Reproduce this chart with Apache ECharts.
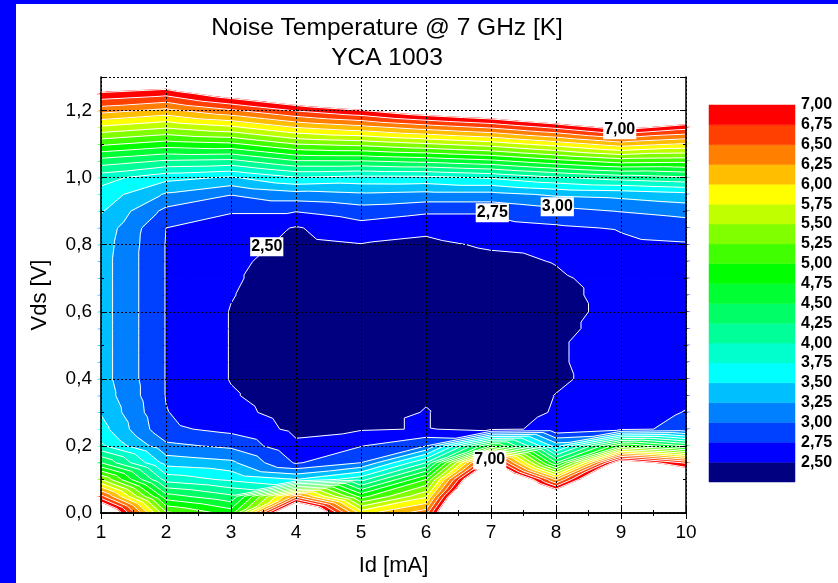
<!DOCTYPE html>
<html>
<head>
<meta charset="utf-8">
<script src="https://cdn.jsdelivr.net/npm/echarts@6/dist/echarts.min.js"></script>
<style>
  html, body { margin: 0; padding: 0; background: #0000ff; }
  #chart { position: absolute; left: 16px; top: 4px; width: 822px; height: 579px; background: #fff; }
</style>
</head>
<body>
<div id="chart"></div>
<script>
// measurement grid: Id [mA] columns, Vds [V] rows
const idMA = [1, 2, 3, 4, 5, 6, 7, 8, 9, 10];
const vds = [0, 0.05, 0.1, 0.15, 0.2, 0.25, 0.3, 0.35, 0.4, 0.45, 0.5, 0.55, 0.6, 0.65,
  0.7, 0.75, 0.8, 0.85, 0.9, 0.95, 1.0, 1.05, 1.1, 1.15, 1.2, 1.25, 1.3];

// noise temperature [K] along Vds, one array per Id
const tId1 = [7.8, 6.6, 5.5, 4.5, 3.8, 3.6, 3.48, 3.40, 3.36, 3.36, 3.36, 3.36, 3.36, 3.36,
  3.36, 3.36, 3.38, 3.42, 3.52, 3.65, 3.85, 4.4, 5.05, 5.7, 6.35, 6.95, 7.6];
const tId2 = [5.3, 4.6, 3.9, 3.4, 3.06, 2.8, 2.76, 2.74, 2.74, 2.74, 2.74, 2.74, 2.74, 2.74,
  2.74, 2.74, 2.74, 2.75, 2.93, 3.22, 3.58, 4.23, 4.88, 5.53, 6.18, 6.83, 7.48];
const tId3 = [4.9, 4.3, 3.7, 3.3, 2.95, 2.68, 2.57, 2.52, 2.49, 2.49, 2.49, 2.49, 2.49, 2.51,
  2.53, 2.56, 2.62, 2.69, 2.76, 3.01, 3.47, 4.19, 4.95, 5.70, 6.46, 7.21, 7.97];
const tId4 = [8.2, 6.4, 3.5, 2.72, 2.55, 2.44, 2.40, 2.38, 2.38, 2.38, 2.38, 2.38, 2.38, 2.38,
  2.38, 2.38, 2.43, 2.48, 2.76, 3.15, 3.73, 4.49, 5.25, 6.01, 6.77, 7.53, 8.29];
const tId5 = [5.9, 4.9, 3.9, 3.0, 2.74, 2.48, 2.40, 2.36, 2.36, 2.36, 2.36, 2.36, 2.36, 2.36,
  2.36, 2.40, 2.49, 2.65, 2.88, 3.21, 3.67, 4.5, 5.33, 6.17, 6.99, 7.83, 8.67];
const tId6 = [6.4, 5.7, 5.0, 4.0, 3.0, 2.51, 2.51, 2.48, 2.38, 2.38, 2.38, 2.38, 2.38, 2.38,
  2.38, 2.38, 2.45, 2.55, 2.79, 3.17, 3.68, 4.58, 5.47, 6.37, 7.27, 8.16, 9.0];
const tId7 = [10, 9.5, 8.5, 7.2, 4.8, 2.45, 2.36, 2.38, 2.38, 2.38, 2.38, 2.38, 2.38, 2.38,
  2.38, 2.44, 2.53, 2.65, 2.79, 3.17, 3.78, 4.70, 5.62, 6.54, 7.46, 8.38, 9.3];
const tId8 = [9.0, 7.6, 6.2, 4.5, 3.4, 2.55, 2.52, 2.505, 2.47, 2.48, 2.48, 2.45, 2.42, 2.44,
  2.47, 2.51, 2.56, 2.71, 2.92, 3.29, 3.97, 4.92, 5.86, 6.81, 7.76, 8.7, 9.6];
const tId9 = [9.5, 9.0, 8.5, 7.4, 5.0, 2.7, 2.62, 2.58, 2.58, 2.58, 2.58, 2.58, 2.58, 2.58,
  2.58, 2.64, 2.70, 2.77, 3.01, 3.33, 4.11, 5.12, 6.13, 7.14, 8.15, 9.16, 10.2];
const tId10 = [9.0, 8.5, 7.8, 6.7, 4.5, 2.8, 2.76, 2.7, 2.65, 2.65, 2.65, 2.65, 2.65, 2.65,
  2.65, 2.69, 2.73, 2.86, 3.09, 3.42, 4.21, 5.09, 5.97, 6.86, 7.74, 8.63, 9.5];
const noiseT = [tId1, tId2, tId3, tId4, tId5, tId6, tId7, tId8, tId9, tId10];

// contour levels and band colours (band k lies below levels[k])
const levels = [2.5, 2.75, 3.0, 3.25, 3.5, 3.75, 4.0, 4.25, 4.5, 4.75, 5.0, 5.25, 5.5,
  5.75, 6.0, 6.25, 6.5, 6.75, 7.0];
const bandColors = ['#000080', '#0000ff', '#0040ff', '#0080ff', '#00bfff', '#00ffff',
  '#00ffcc', '#00ff99', '#00ff66', '#00ff33', '#00ff00', '#40ff00', '#80ff00', '#bfff00',
  '#ffff00', '#ffbf00', '#ff8000', '#ff4000', '#ff0000'];

// contour labels: Id, Vds, text
const contourLabels = [
  [3.55, 0.794, '2,50'],
  [7.02, 0.895, '2,75'],
  [8.02, 0.913, '3,00'],
  [8.98, 1.143, '7,00'],
  [6.98, 0.158, '7,00']
];

const comma = (v, d) => v.toFixed(d).replace('.', ',');

const cells = [];
for (let i = 0; i < idMA.length - 1; i++) {
  for (let j = 0; j < vds.length - 1; j++) cells.push([i, j]);
}

function cellTriangles(i, j) {
  const p = (a, b) => [idMA[a], vds[b], noiseT[a][b]];
  const c = [p(i, j), p(i + 1, j), p(i + 1, j + 1), p(i, j + 1)];
  return [[c[0], c[1], c[2]], [c[0], c[2], c[3]]];
}

// keep the part of poly with v >= level (above) or v < level
function clip(poly, level, above) {
  const out = [];
  const inside = pt => (above ? pt[2] >= level : pt[2] < level);
  for (let k = 0; k < poly.length; k++) {
    const a = poly[k], b = poly[(k + 1) % poly.length];
    const ia = inside(a), ib = inside(b);
    if (ia) out.push(a);
    if (ia !== ib) {
      const t = (level - a[2]) / (b[2] - a[2]);
      out.push([a[0] + t * (b[0] - a[0]), a[1] + t * (b[1] - a[1]), level]);
    }
  }
  return out;
}

function renderBands(params, api) {
  const children = [];
  cellTriangles(api.value(0), api.value(1)).forEach(tri => {
    for (let k = 0; k < bandColors.length; k++) {
      let poly = k > 0 ? clip(tri, levels[k - 1], true) : tri;
      if (poly.length >= 3) poly = clip(poly, levels[k], false);
      if (poly.length < 3) continue;
      children.push({
        type: 'polygon',
        shape: { points: poly.map(pt => api.coord([pt[0], pt[1]])) },
        style: { fill: bandColors[k], stroke: bandColors[k], lineWidth: 1.2 }
      });
    }
  });
  return { type: 'group', children };
}

function renderLines(params, api) {
  const children = [];
  cellTriangles(api.value(0), api.value(1)).forEach(tri => {
    levels.forEach(L => {
      const pts = [];
      for (let e = 0; e < 3; e++) {
        const a = tri[e], b = tri[(e + 1) % 3];
        if ((a[2] < L) !== (b[2] < L)) {
          const t = (L - a[2]) / (b[2] - a[2]);
          pts.push(api.coord([a[0] + t * (b[0] - a[0]), a[1] + t * (b[1] - a[1])]));
        }
      }
      if (pts.length === 2) {
        children.push({
          type: 'line',
          shape: { x1: pts[0][0], y1: pts[0][1], x2: pts[1][0], y2: pts[1][1] },
          style: { stroke: '#ffffff', lineWidth: 1 }
        });
      }
    });
  });
  return { type: 'group', children };
}

function renderLabel(params, api) {
  const p = api.coord([api.value(0), api.value(1)]);
  return {
    type: 'text',
    x: p[0], y: p[1],
    style: {
      text: contourLabels[params.dataIndex][2],
      font: 'bold 16px ' + font, fill: '#000',
      align: 'center', verticalAlign: 'middle',
      backgroundColor: '#fff', padding: [2, 1, 1, 1]
    }
  };
}

function renderLegend(params, api) {
  const k = api.value(0);
  const lo = k === 0 ? 2.25 : levels[k - 1];
  const p0 = api.coord([0, levels[k]]);
  const p1 = api.coord([1, lo]);
  return {
    type: 'rect',
    shape: { x: p0[0], y: p0[1], width: p1[0] - p0[0], height: p1[1] - p0[1] },
    style: { fill: bandColors[k], stroke: bandColors[k], lineWidth: 0.5 }
  };
}

const font = 'Liberation Sans, Arial, sans-serif';
const frameTick = { show: true, inside: true, length: 6, lineStyle: { color: '#000', width: 1 } };
const frameMinor = { show: true, splitNumber: 2, length: 3, lineStyle: { color: '#000', width: 1 } };
const frameLine = { show: true, lineStyle: { color: '#000', width: 1.5 } };
const gridDots = { show: true, lineStyle: { color: '#000', width: 1, type: [2, 2] } };

const chart = echarts.init(document.getElementById('chart'));
chart.setOption({
  animation: false,
  backgroundColor: '#ffffff',
  graphic: [{
    type: 'text',
    x: 371, y: 39,
    style: {
      text: 'Noise Temperature @ 7 GHz [K]\nYCA 1003',
      font: '24.5px ' + font, fill: '#000', align: 'center', verticalAlign: 'middle', lineHeight: 30
    }
  }],
  grid: [
    { left: 85, top: 73, width: 585, height: 436 },
    { left: 693, top: 101, width: 86, height: 377 }
  ],
  xAxis: [{
    type: 'value', gridIndex: 0, min: 1, max: 10, interval: 1, z: 10,
    axisLine: frameLine, axisTick: frameTick, minorTick: frameMinor, splitLine: gridDots,
    axisLabel: { color: '#000', fontSize: 19, fontFamily: font, margin: 10 },
    name: 'Id [mA]', nameLocation: 'middle', nameGap: 42,
    nameTextStyle: { color: '#000', fontSize: 22, fontFamily: font }
  }, {
    type: 'value', gridIndex: 0, position: 'top', min: 1, max: 10, interval: 1, z: 10,
    axisLine: frameLine, axisTick: frameTick, minorTick: frameMinor,
    axisLabel: { show: false }, splitLine: { show: false }
  }, {
    type: 'value', gridIndex: 1, min: 0, max: 1, show: false
  }],
  yAxis: [{
    type: 'value', gridIndex: 0, min: 0, max: 1.3, interval: 0.2, z: 10,
    axisLine: frameLine, axisTick: frameTick, minorTick: frameMinor, splitLine: gridDots,
    axisLabel: {
      color: '#000', fontSize: 19, fontFamily: font, margin: 9,
      formatter: v => (v > 1.25 ? '' : comma(v, 1))
    },
    name: 'Vds [V]', nameLocation: 'middle', nameGap: 50,
    nameTextStyle: { color: '#000', fontSize: 22, fontFamily: font }
  }, {
    type: 'value', gridIndex: 0, position: 'right', min: 0, max: 1.3, interval: 0.2, z: 10,
    axisLine: frameLine, axisTick: frameTick, minorTick: frameMinor,
    axisLabel: { show: false }, splitLine: { show: false }
  }, {
    type: 'value', gridIndex: 1, position: 'right', min: 2.25, max: 7.0, interval: 0.25,
    axisLine: { show: false }, axisTick: { show: false }, splitLine: { show: false },
    axisLabel: {
      color: '#000', fontSize: 16, fontWeight: 'bold', fontFamily: font, margin: 6,
      formatter: v => (v < 2.4 ? '' : comma(v, 2))
    }
  }],
  series: [{
    type: 'custom', xAxisIndex: 0, yAxisIndex: 0, z: 2,
    renderItem: renderBands, data: cells, silent: true
  }, {
    type: 'custom', xAxisIndex: 0, yAxisIndex: 0, z: 3,
    renderItem: renderLines, data: cells, silent: true
  }, {
    type: 'custom', xAxisIndex: 0, yAxisIndex: 0, z: 20, silent: true,
    renderItem: renderLabel, data: contourLabels.map(d => [d[0], d[1]])
  }, {
    type: 'custom', xAxisIndex: 2, yAxisIndex: 2,
    renderItem: renderLegend, data: bandColors.map((c, k) => [k, k])
  }]
});
</script>
</body>
</html>
